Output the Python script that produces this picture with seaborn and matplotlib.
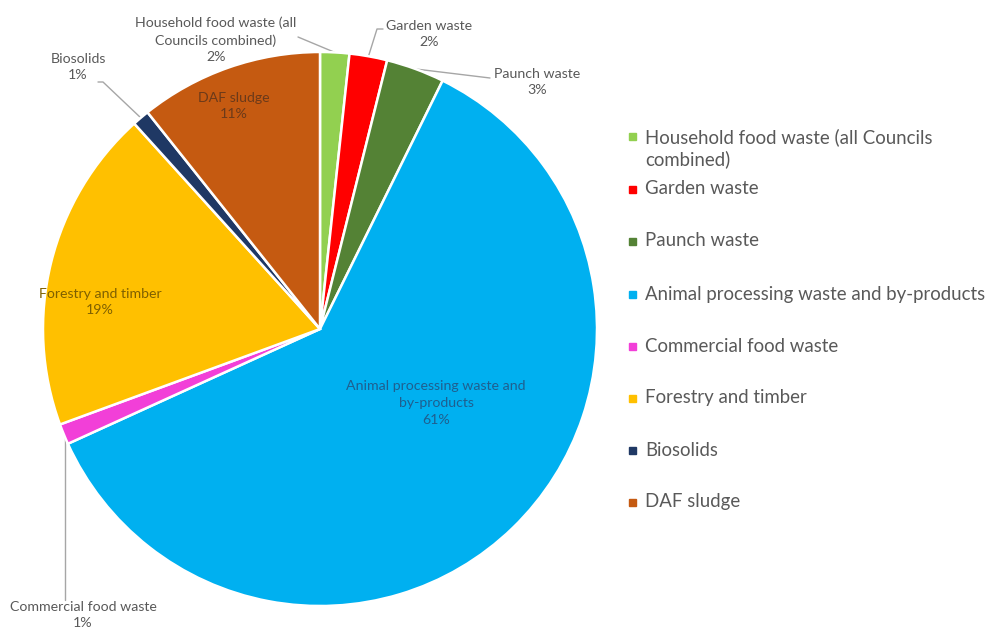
import numpy as np
import matplotlib
matplotlib.use("Agg")
import matplotlib.pyplot as plt
from matplotlib.patches import Rectangle
import seaborn as sns

categories = [
    "Household food waste (all Councils combined)",
    "Garden waste",
    "Paunch waste",
    "Animal processing waste and by-products",
    "Commercial food waste",
    "Forestry and timber",
    "Biosolids",
    "DAF sludge",
]
values = [1.7, 2.2, 3.4, 60.9, 1.2, 18.9, 1.0, 10.7]
slice_labels = [
    "Household food waste (all\nCouncils combined)",
    "Garden waste",
    "Paunch waste",
    "Animal processing waste and\nby-products",
    "Commercial food waste",
    "Forestry and timber",
    "Biosolids",
    "DAF sludge",
]
legend_labels = [
    "Household food waste (all Councils\ncombined)",
    "Garden waste",
    "Paunch waste",
    "Animal processing waste and by-products",
    "Commercial food waste",
    "Forestry and timber",
    "Biosolids",
    "DAF sludge",
]
colors = ["#92D050", "#FF0000", "#548235", "#00B0F0",
          "#F23FD8", "#FFC000", "#1F3864", "#C55A11"]

sns.set_theme(style="white")
plt.rcParams["font.family"] = ["Lato", "DejaVu Sans"]

W, H = 990, 631
fig = plt.figure(figsize=(W / 100, H / 100), dpi=100)
cx, cy, r = 320, 329, 277
ax = fig.add_axes([(cx - r) / W, (H - cy - r) / H, 2 * r / W, 2 * r / H])

wedges, _ = ax.pie(values, colors=colors, startangle=90, counterclock=False,
                   radius=1.0,
                   wedgeprops=dict(edgecolor="white", linewidth=1.8))
ax.set_xlim(-1, 1)
ax.set_ylim(-1, 1)
ax.set_aspect("equal")
ax.axis("off")

def px(x, y):
    return ((x - cx) / r, (cy - y) / r)

gray = "#595959"
layout = {
    0: (px(216, 40), gray, [px(298, 37)]),
    1: (px(429, 34), gray, [px(383, 29), px(377, 29)]),
    2: (px(537, 82), gray, [px(490, 78)]),
    3: (px(436, 403), "#1F5F8F", None),
    4: (px(83, 615), gray, [px(65, 600)]),
    5: (px(100, 302), "#7F6000", None),
    6: (px(78, 67), gray, [px(98, 82), px(103, 82)]),
    7: (px(234, 106), "#6B3A1A", None),
}

total = sum(values)
cum = np.cumsum([0] + values[:-1])
for i, v in enumerate(values):
    pos, col, lead = layout[i]
    pct = f"{round(100 * v / total):.0f}%"
    ax.text(pos[0], pos[1], f"{slice_labels[i]}\n{pct}", ha="center",
            va="center", fontsize=10.2, color=col, linespacing=1.45,
            clip_on=False)
    if lead is not None:
        mid = np.deg2rad(90 - 360 * (cum[i] + v / 2) / total)
        ex, ey = np.cos(mid), np.sin(mid)
        xs = [p[0] for p in lead] + [ex]
        ys = [p[1] for p in lead] + [ey]
        if i == 4:
            xs = [lead[0][0], lead[0][0]]
            ys = [lead[0][1], ey]
        ax.plot(xs, ys, color="#A6A6A6", lw=1.0, clip_on=False, zorder=0.5)

# legend (manual rows); y = pixel row of each entry's first text line
leg_rows_y = [136, 189, 241, 294, 346, 398, 450, 502]
line_h = 24
for c, lab, yy in zip(colors, legend_labels, leg_rows_y):
    nlines = lab.count("\n") + 1
    fig.patches.append(Rectangle((629 / W, 1 - (yy + 4) / H), 7 / W, 7 / H,
                                 transform=fig.transFigure, color=c))
    ty = yy + (nlines - 1) * line_h / 2
    fig.text(645 / W, 1 - ty / H, lab, ha="left", va="center",
             fontsize=13.4, color=gray, linespacing=1.3)

fig.savefig("out.png", dpi=100, facecolor="white")
